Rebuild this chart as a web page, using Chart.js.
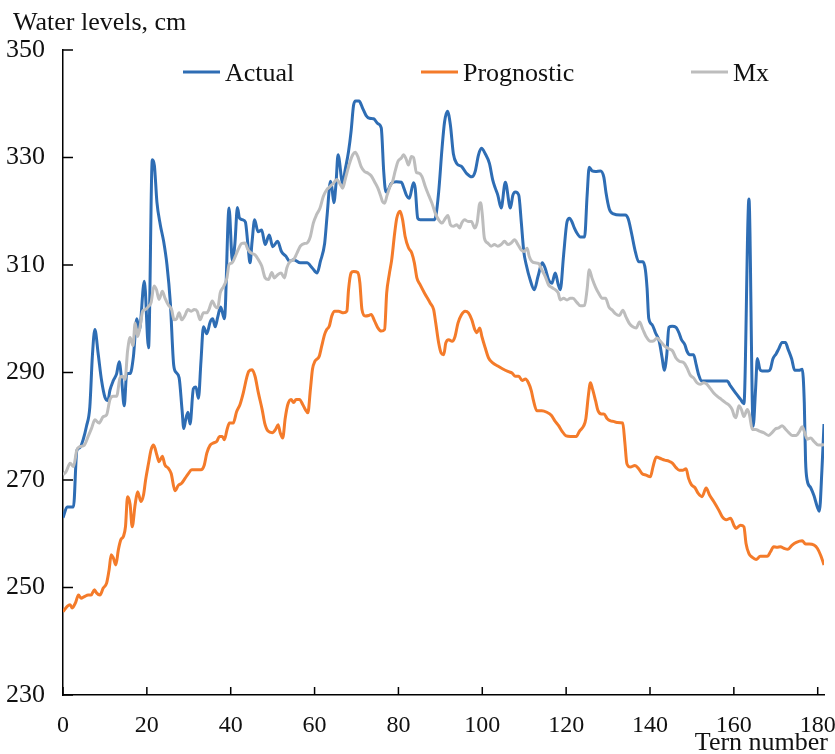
<!DOCTYPE html>
<html>
<head>
<meta charset="utf-8">
<script src="https://cdn.jsdelivr.net/npm/chart.js@4.4.0/dist/chart.umd.min.js"></script>
<style>
  html, body { margin: 0; padding: 0; background: #fff; }
  #wrap { width: 835px; height: 754px; position: relative; }
</style>
</head>
<body>
<div id="wrap"><canvas id="levelsChart" width="835" height="754"></canvas></div>
<script>
// tern number, water level (cm)
const actual = [
  [0,263],[1,265],[2.5,265],[3.3,275.5],[4,276],[4.8,277.5],[5.6,280],[6.4,283.6],[7,293],[7.6,298],
  [8.4,293.4],[9.2,288.5],[10,285.4],[10.7,284.8],[11.2,286.7],[12,288.5],[12.8,289.8],[13.4,292],[14,288.5],[14.6,283.8],
  [15.2,289.8],[16,289.8],[16.8,293],[17.6,300],[18.2,297.8],[19.4,307],[20.4,294.6],[21.3,329.6],[21.8,328.5],[22.4,321.7],
  [23.2,317.5],[24,314.4],[24.8,310],[25.6,303],[26.4,291.4],[27,290],[27.7,289],[28.4,283],[28.8,279.6],[29.2,281],
  [29.8,282.6],[30.3,280.4],[31.1,287],[31.7,287.3],[32.3,285.2],[32.9,292],[33.5,298.5],[34.3,297.2],[35.1,299.4],[35.7,300],
  [36.3,298.5],[36.9,300.3],[37.6,302.2],[38.5,300],[39.6,320.6],[40.4,310.7],[41,314],[41.6,320.7],[42.1,318.7],[42.9,318.4],
  [43.5,318],[44.1,313.8],[44.6,310.4],[45.1,314.4],[45.7,318.4],[46.5,316.2],[47.4,316.5],[48.2,313.8],[49.2,315.6],[50,313.4],
  [51.2,314.4],[52.1,312.5],[53.2,311.6],[54,310.7],[55,311],[56.6,310.4],[58.2,310.4],[59.4,309.5],[60.6,308.5],[61.4,310.7],
  [62.4,314],[63,319.3],[63.8,325.6],[64.2,324],[64.6,321.6],[65.1,325],[65.6,330.5],[66.7,325.2],[67.3,327.7],[68.1,331.1],
  [68.7,334.8],[69.3,339.7],[69.8,340.5],[70.6,340.5],[71.5,339.1],[72.3,337.8],[73.1,337.3],[74.1,337.2],[75.1,336.3],[75.9,335.5],
  [76.5,327.3],[77,323.6],[77.5,323.9],[78.3,325.2],[79.5,325.5],[80.7,325.4],[81.3,324.3],[81.9,323],[82.6,322.4],[83.6,325.3],
  [84,324.3],[84.6,318.7],[85.2,318.4],[88.4,318.4],[88.9,319],[89.6,323.6],[90.4,331.7],[91,336.6],[91.7,338.6],[92.4,336],
  [93.1,330.7],[93.9,328.9],[95.1,328.3],[96.3,327],[97.5,326.4],[98.3,327.4],[99.1,330.5],[99.8,331.7],[100.7,330.7],[101.7,328.9],
  [102.5,325.8],[103.1,324.3],[103.7,323],[104.5,320.6],[105.5,325.4],[106.7,320.6],[107.3,323],[107.9,323.6],[108.7,323],[109.3,318],
  [109.9,312.5],[110.5,310],[111.4,307.3],[112.4,305.4],[113.3,307.9],[114.3,310.4],[115,309.4],[115.8,307.3],[116.6,306.6],[117.4,308.5],
  [118.1,306.4],[118.6,305.4],[119.4,311.9],[120.2,318],[120.8,318.7],[121.4,318],[122,316.8],[122.6,315.9],[123.4,315.2],[124.4,315.2],
  [125,322.9],[125.5,328.2],[126.2,327.5],[127,327.4],[128.2,327.5],[129,326.3],[129.5,323.5],[130.3,320.4],[131.3,319.5],[132.9,319.3],
  [134.1,319.3],[134.8,318.6],[135.6,315.9],[136.5,312.5],[137.3,310.6],[138.3,310.6],[138.9,309.1],[139.3,305.7],[139.7,300.1],[140.5,298.9],
  [141.3,297.4],[142.2,295.8],[142.9,292.7],[143.4,290.4],[144,293.3],[144.5,298.4],[145.3,298.6],[146.2,298.4],[146.9,297.4],[147.5,296.1],
  [148.3,295.2],[148.8,294],[149.5,293.3],[150.4,293.3],[151,291.5],[151.6,289.6],[152.4,288.4],[158.4,288.4],[159.2,287.5],[160.4,286.2],
  [161.6,285],[162.4,284.2],[163.6,322.3],[164.6,280],[165.2,287.2],[165.6,292.6],[166.2,290.6],[166.7,290.3],[168.2,290.3],[168.7,290.6],
  [169.3,292.5],[170.1,293.5],[170.7,294.4],[171.5,295.6],[172.3,295.6],[172.9,294.4],[173.8,292.5],[174.5,290.4],[175.5,290.4],[176.3,290.6],
  [176.8,284.4],[177.1,273.6],[177.5,269.9],[178.3,268.6],[179.1,267.1],[179.9,265],[180.4,264.2],[181,271.8],[181.5,280.4]
];

const prognostic = [
  [0,245.5],[1,246.5],[1.7,246.8],[2.2,246.2],[3,247.2],[3.7,248.6],[4.3,248],[5.1,248.3],[6,248.6],[6.7,248.6],
  [7.5,249.6],[8,249],[8.8,248.6],[9.6,249.9],[10.4,250.8],[11,253.3],[11.5,256.1],[12,255.5],[12.6,254.2],[13.2,257],
  [13.8,258.9],[14.4,259.5],[14.9,261.3],[15.4,266.9],[16,265.5],[16.5,261.3],[17.2,265.4],[17.8,267.8],[18.6,266],[19.2,267.2],
  [19.7,270],[20.4,273.1],[21,275.6],[21.6,276.5],[22.4,274.6],[22.9,273.4],[23.7,274.4],[24.3,272.8],[25.1,272.2],[25.8,271.2],
  [26.7,268],[27.5,269],[28.3,269.4],[29.1,270.3],[29.9,271.2],[30.7,271.9],[32.9,271.9],[33.7,272.8],[34.3,275],[35.1,276.5],
  [35.9,276.9],[36.7,277.2],[37.3,278.1],[38,278.1],[38.5,277.5],[39.1,279.3],[39.7,280.6],[40.6,280.6],[41.4,282.7],[42.2,284],
  [43,286.2],[43.8,289],[44.3,290.2],[45.1,290.5],[45.8,289.3],[46.6,286.2],[47.5,283.1],[48.1,280.6],[48.9,279.1],[49.9,278.8],
  [50.7,279.4],[51.3,280.3],[51.8,278.8],[52.4,277.8],[53,281.5],[53.6,284],[54.4,285],[55,284.4],[55.6,285],[56.4,285],
  [57.2,284],[57.8,283.1],[58.4,282.5],[59,286.8],[59.5,290.6],[60.1,292.1],[61.1,293],[61.7,294.9],[62.4,297.1],[62.9,298],
  [63.5,298.6],[64.1,300.5],[64.8,301.4],[65.7,301.4],[66.9,301.1],[67.7,301.4],[68.1,305.4],[68.7,308.5],[69.3,308.8],[70.3,308.6],
  [70.8,306.7],[71.3,301.7],[72.1,300.5],[72.9,300.6],[73.5,300.8],[74.3,299.6],[75.1,298.3],[75.9,297.7],[76.7,298],[77.2,304.8],
  [77.8,308.2],[78.4,311],[79.1,315.9],[79.6,318.7],[80.4,320],[81,318.4],[81.6,315.3],[82.4,313.2],[83.2,312.2],[83.8,310.4],
  [84.4,307.6],[85.2,306.3],[86.2,304.8],[87.6,302.9],[88.4,301.7],[88.9,299.2],[89.6,295.5],[90.2,293.6],[90.8,293.3],[91.3,295.5],
  [92,296.1],[92.8,295.8],[93.5,296.7],[94.2,299.2],[95,300.7],[95.9,301.4],[96.7,301.1],[97.5,299.8],[98.2,298],[98.7,297.4],
  [99.4,298.3],[99.9,296.7],[100.7,294.6],[101.5,292.7],[102.5,291.8],[103.7,291.2],[104.8,290.7],[106.1,290.2],[107.1,289.9],[107.9,289.3],
  [108.7,289.3],[109.5,288.5],[110.3,288.8],[111,288.1],[111.7,286.6],[112.2,284.8],[113,282.9],[114.2,282.9],[115.4,282.6],[116.5,282],
  [117.3,281],[118.2,280.1],[119,279.1],[120,278.2],[121,278.1],[122.4,278.1],[123.2,279.1],[124.2,280.1],[124.7,281.4],[125.3,285.7],
  [125.8,288.1],[126.3,286.9],[127,284.8],[127.6,282.9],[128.4,282.3],[129,282.3],[129.8,281.4],[130.6,281],[131.3,280.9],[132.1,280.7],
  [133.5,280.6],[134,277],[134.5,273],[135.3,272.4],[136.4,272.7],[137.3,272.1],[138.1,271.2],[139.1,270.9],[140.1,270.6],[140.7,272.4],
  [141.5,274.3],[142.5,274],[143.5,273.7],[144.5,273.5],[145.4,273.1],[146.2,272.3],[147,271.8],[147.8,271.8],[148.6,272.1],[149.2,270.3],
  [149.9,269.1],[150.7,268.6],[151.5,267.5],[152.4,266.9],[153.4,268.5],[154.2,267.2],[155.2,266],[156.4,264.4],[157.2,263.2],[158.2,262.6],
  [159.2,262.9],[160,261.6],[160.5,261],[161.6,261.6],[162.4,261.3],[162.9,258.2],[163.6,256.3],[164.4,255.6],[165.3,255.2],[166.3,255.8],
  [168,255.8],[168.7,256.6],[169.5,257.6],[170.3,257.5],[171.1,257.6],[171.9,257.3],[172.9,257.1],[173.9,257.9],[174.9,258.4],[176.3,258.7],
  [177.1,258.1],[178,258.1],[179.1,257.9],[179.9,257.3],[180.7,256],[181.5,254.2]
];

const mx = [
  [0,271],[0.7,271.5],[1.7,273.1],[2.5,272.5],[3.3,275.6],[4,276.2],[5.1,276.5],[6,278.1],[6.8,279.6],[7.6,281.2],
  [8.6,280.6],[9.6,281.8],[10.4,282.1],[11.2,285],[12,285.6],[12.8,285.6],[13.6,289],[14.2,289.3],[14.8,288.7],[15.4,294],
  [16,296.5],[16.7,295],[17.2,299.2],[17.8,296.7],[18.4,298.6],[19,301.4],[19.6,301.7],[20.4,302.3],[21,303],[21.7,306.1],
  [22.3,305.4],[22.9,303.6],[23.7,305.1],[24.3,303.9],[25.1,302.6],[25.9,301.7],[26.5,299.8],[27.1,300],[27.7,301.1],[28.3,299.8],
  [29,300.5],[29.8,301.7],[30.6,301.4],[31.3,301.7],[32,301.4],[32.7,299.8],[33.5,301.1],[34.3,301.1],[34.8,301.7],[35.6,303.3],
  [36.3,302.3],[36.9,302],[37.5,304.8],[38.3,306],[39.1,307.6],[39.6,310.1],[40.3,310.4],[41.1,311.6],[41.8,312.9],[42.6,314],
  [43.4,314.1],[44.1,312.9],[44.9,312.2],[45.8,311.9],[46.6,311],[47.4,309.8],[48.2,307.6],[49,307.3],[49.8,308.6],[50.4,307.6],
  [51.2,308.2],[52,308.5],[52.8,307.6],[53.4,309.5],[54.2,310.7],[55,311],[55.8,312.2],[56.6,313.5],[57.6,314],[58.2,314.1],
  [59,315.3],[59.7,317.8],[60.5,319.4],[61.3,320.6],[62.1,322.8],[62.9,324],[63.7,324.6],[64.5,325.2],[65.3,325.9],[66,325.2],
  [66.7,324.3],[67.3,325.9],[67.9,327.7],[68.5,329.3],[69.1,330.5],[69.7,331],[70.3,330.2],[71.1,328.3],[71.9,327.4],[72.7,327.1],
  [73.5,326.6],[74.3,325.5],[75.1,324.3],[75.7,323],[76.2,321.8],[76.7,321.5],[77.3,323],[78,324.6],[78.6,325.5],[79.2,327.4],
  [79.9,329.3],[80.7,329.9],[81.2,330.5],[81.8,329.8],[82.4,328.6],[83.1,330.2],[83.6,330],[84.3,327.2],[84.8,327.1],[85.6,326.5],
  [86.4,324.6],[87.2,323],[88,321.5],[88.8,319.6],[89.6,318.4],[90.4,317.8],[91.2,318.7],[91.8,319.2],[92.4,317.5],[93.1,317.2],
  [93.9,317.5],[94.6,316.9],[95.1,317.8],[95.8,318.4],[96.6,318.1],[97.4,318.1],[98.2,316.9],[98.8,318],[99.3,321.2],[99.6,321.6],
  [100,319.4],[100.5,315],[101.3,314.1],[102.1,313.5],[102.9,313.8],[103.7,313.5],[104.5,313.8],[105.3,314.4],[106.1,313.8],[106.9,314.1],
  [107.7,314.7],[108.5,313.8],[109.3,312.8],[110,312.5],[110.7,313.1],[111.2,311.6],[111.8,310.7],[112.6,310.4],[113.4,310.3],[114.2,309.1],
  [115,307.9],[115.8,306.3],[116.6,305.8],[117.4,305.4],[118.1,304.8],[118.6,303.5],[119.4,303.8],[120.2,303.5],[121,303.8],[121.6,303.8],
  [122.6,303],[123.4,302.4],[124.4,302.5],[125,305.5],[125.5,309.1],[126.2,307.5],[127,305.9],[127.8,304.7],[128.6,303.8],[129.4,303.8],
  [130.2,302.2],[131,301.6],[131.8,300.9],[132.7,300.6],[133.5,301.6],[134.3,300.3],[135.1,299.1],[135.9,298.5],[136.7,298.3],[137.5,299.4],
  [138.3,298],[139,296.8],[140.1,295.8],[140.9,295.9],[141.7,296.4],[142.5,295.8],[143.5,294.9],[144.5,294.4],[145.4,294],[146.2,292.7],
  [147,292.1],[148.1,291.8],[148.8,290.9],[149.6,289.5],[150.4,289],[151.2,288.1],[152,287.8],[152.8,288.1],[153.6,287.8],[154.4,287],
  [155.2,286.2],[156,285.6],[157,285],[158,284.4],[159,283.8],[159.6,283.1],[160.1,281.9],[160.5,281.6],[161.2,283.8],[161.8,283.1],
  [162.4,281.8],[163.2,283.1],[163.7,282.2],[164.4,279.4],[165.2,279.4],[166.1,279.1],[167.1,278.8],[168.3,278.3],[169.1,278.8],[169.9,279.5],
  [170.7,279.7],[171.5,280.1],[172.3,279.5],[173.1,278.8],[173.9,278.3],[174.9,278.3],[175.7,279.1],[176.3,279.9],[176.9,278.8],[177.5,277.6],
  [178.3,277.8],[179.1,277.2],[180.1,276.5],[181.1,276.5],[181.5,276.7]
];

const seriesNames = ["Actual", "Prognostic", "Mx"];
const seriesColors = ["#2e6db4", "#f47b2a", "#bdbdbd"];
const xTicks = [0, 20, 40, 60, 80, 100, 120, 140, 160, 180];
const yTicks = [230, 250, 270, 290, 310, 330, 350];
const yTitle = "Water levels, cm";
const xTitle = "Tern number";

const FONT = "'Liberation Serif', 'Times New Roman', serif";

// ticks drawn inward, axis titles and the in-plot legend
const extrasPlugin = {
  id: "extras",
  afterDraw(chart) {
    const { ctx, chartArea, scales } = chart;
    ctx.save();
    ctx.strokeStyle = "#000";
    ctx.lineWidth = 1.5;
    scales.x.ticks.forEach((t) => {
      const px = scales.x.getPixelForValue(t.value);
      ctx.beginPath();
      ctx.moveTo(px, chartArea.bottom);
      ctx.lineTo(px, chartArea.bottom - 8);
      ctx.stroke();
    });
    scales.y.ticks.forEach((t) => {
      const py = scales.y.getPixelForValue(t.value);
      ctx.beginPath();
      ctx.moveTo(chartArea.left, py);
      ctx.lineTo(chartArea.left + 10, py);
      ctx.stroke();
    });

    ctx.fillStyle = "#111";
    ctx.font = "26px " + FONT;
    ctx.textBaseline = "alphabetic";
    ctx.textAlign = "left";
    ctx.fillText(yTitle, 13, 30);
    ctx.textAlign = "right";
    ctx.fillText(xTitle, 828, 750);

    // legend
    const legendX = [183, 421, 691];
    ctx.textAlign = "left";
    seriesNames.forEach((name, i) => {
      ctx.strokeStyle = seriesColors[i];
      ctx.lineWidth = 3;
      ctx.beginPath();
      ctx.moveTo(legendX[i], 72);
      ctx.lineTo(legendX[i] + 37, 72);
      ctx.stroke();
      ctx.fillText(name, legendX[i] + 42, 81);
    });
    ctx.restore();
  },
};

const toPoints = (arr) => arr.map(([x, y]) => ({ x, y }));

new Chart(document.getElementById("levelsChart"), {
  type: "line",
  data: {
    datasets: [
      { label: seriesNames[0], data: toPoints(actual), borderColor: seriesColors[0], order: 3 },
      { label: seriesNames[1], data: toPoints(prognostic), borderColor: seriesColors[1], order: 2 },
      { label: seriesNames[2], data: toPoints(mx), borderColor: seriesColors[2], order: 1 },
    ],
  },
  options: {
    responsive: false,
    animation: false,
    layout: { padding: { top: 50, right: 11, left: 0, bottom: 0 } },
    elements: {
      point: { radius: 0 },
      line: { borderWidth: 3, cubicInterpolationMode: "monotone" },
    },
    plugins: {
      legend: { display: false },
      tooltip: { enabled: false },
    },
    scales: {
      x: {
        type: "linear",
        min: 0,
        max: 181.5,
        afterBuildTicks: (scale) => {
          scale.ticks = xTicks.map((v) => ({ value: v }));
        },
        afterFit: (scale) => {
          scale.height = 59;
          // let the "180" label hang into the right margin instead of shrinking the plot
          scale.paddingLeft = 0;
          scale.paddingRight = 0;
        },
        ticks: { color: "#111", padding: 8, maxRotation: 0, autoSkip: false, font: { family: FONT, size: 24 } },
        grid: { display: false },
        border: { display: true, color: "#000", width: 1.5 },
      },
      y: {
        min: 230,
        max: 350,
        afterBuildTicks: (scale) => {
          scale.ticks = yTicks.map((v) => ({ value: v }));
        },
        afterFit: (scale) => { scale.width = 63; },
        ticks: { color: "#111", padding: 10, autoSkip: false, font: { family: FONT, size: 26 } },
        grid: { display: false },
        border: { display: true, color: "#000", width: 1.5 },
      },
    },
  },
  plugins: [extrasPlugin],
});
</script>
</body>
</html>
